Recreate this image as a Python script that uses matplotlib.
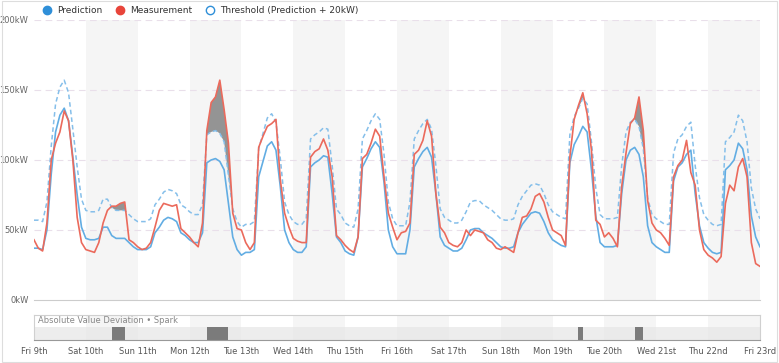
import matplotlib.pyplot as plt
import numpy as np
from matplotlib.lines import Line2D
from matplotlib.patches import Rectangle

day_labels = ['Fri 9th', 'Sat 10th', 'Sun 11th', 'Mon 12th', 'Tue 13th', 'Wed 14th', 'Thu 15th',
              'Fri 16th', 'Sat 17th', 'Sun 18th', 'Mon 19th', 'Tue 20th', 'Wed 21st', 'Thu 22nd', 'Fri 23rd']

# readings every 2 hours (kW), 12 per day + final point
prediction = [
    37, 37, 36, 50, 90, 120, 132, 137, 128, 102, 75, 52,      # Fri 9
    44, 43, 43, 44, 52, 52, 46, 44, 44, 44, 41, 38,           # Sat 10
    36, 36, 36, 38, 48, 52, 57, 59, 58, 56, 48, 46,           # Sun 11
    43, 41, 41, 48, 98, 100, 101, 99, 93, 69, 45, 36,         # Mon 12
    32, 34, 34, 36, 88, 99, 110, 113, 107, 81, 50, 41,        # Tue 13
    36, 34, 34, 38, 95, 98, 100, 103, 102, 76, 45, 41,        # Wed 14
    35, 33, 32, 45, 95, 101, 108, 113, 109, 84, 50, 38,       # Thu 15
    33, 33, 33, 50, 95, 101, 106, 109, 102, 76, 45, 39,       # Fri 16
    37, 35, 35, 37, 43, 50, 51, 51, 48, 46, 44, 41,           # Sat 17
    38, 37, 37, 38, 48, 54, 58, 62, 63, 62, 56, 48,           # Sun 18
    43, 41, 39, 38, 98, 111, 117, 124, 120, 93, 60, 41,       # Mon 19
    38, 38, 38, 39, 76, 100, 107, 109, 104, 88, 53, 41,       # Tue 20
    38, 36, 34, 34, 85, 95, 98, 104, 107, 76, 53, 41,         # Wed 21
    37, 34, 33, 34, 93, 96, 100, 112, 108, 93, 60, 45,        # Thu 22
    38,                                                       # Fri 23
]
measurement = [
    43, 37, 35, 55, 100, 112, 120, 135, 128, 100, 59, 41,     # Fri 9
    36, 35, 34, 41, 55, 64, 67, 67, 69, 70, 43, 41,           # Sat 10
    38, 36, 37, 41, 52, 64, 69, 68, 67, 68, 51, 48,           # Sun 11
    45, 41, 38, 55, 121, 141, 145, 157, 136, 112, 62, 51,     # Mon 12
    50, 41, 36, 41, 109, 117, 124, 126, 129, 86, 62, 52,      # Tue 13
    44, 42, 41, 41, 102, 106, 108, 115, 107, 88, 46, 43,      # Wed 14
    39, 36, 34, 45, 101, 104, 112, 122, 117, 88, 62, 52,      # Thu 15
    43, 48, 49, 55, 104, 107, 114, 128, 117, 76, 52, 48,      # Fri 16
    41, 39, 38, 41, 50, 46, 50, 49, 48, 43, 41, 37,           # Sat 17
    36, 38, 36, 34, 48, 59, 60, 65, 74, 76, 70, 59,           # Sun 18
    50, 48, 46, 39, 102, 129, 139, 148, 133, 107, 57, 54,     # Mon 19
    45, 48, 44, 38, 81, 105, 126, 130, 145, 121, 71, 55,      # Tue 20
    50, 48, 44, 39, 88, 96, 100, 114, 91, 82, 50, 36,         # Wed 21
    32, 30, 27, 31, 69, 82, 78, 95, 101, 88, 41, 26,          # Thu 22
    24,                                                       # Fri 23
]
threshold_margin = 20

hours = np.arange(len(prediction)) * 2
pred = np.array(prediction, dtype=float)
meas = np.array(measurement, dtype=float)
thresh = pred + threshold_margin
over = meas > thresh

c_pred = '#62ade3'
c_meas = '#eb6a5c'
c_thr = '#85bfea'
band = '#f5f5f5'

fig = plt.figure(figsize=(7.79, 3.63), dpi=100)
fig.patches.append(Rectangle((0.002, 0.003), 0.996, 0.994, transform=fig.transFigure,
                             fill=False, edgecolor='#dddddd', linewidth=0.8))

ax = fig.add_axes([0.0436, 0.1736, 0.932, 0.7714])
for d in range(1, 14, 2):
    ax.axvspan(d * 24, (d + 1) * 24, color=band, zorder=0, linewidth=0)
for v in [50, 100, 150, 200]:
    ax.axhline(v, color='#e9dfea', linestyle=(0, (6, 4)), linewidth=0.8, zorder=1)

ax.fill_between(hours, thresh, meas, where=over, interpolate=True,
                color='#8a8a8a', alpha=0.9, zorder=2, linewidth=0)
ax.plot(hours, thresh, color=c_thr, linestyle=(0, (3, 2)), linewidth=1.1, zorder=3)
ax.plot(hours, pred, color=c_pred, linewidth=1.2, zorder=4)
ax.plot(hours, meas, color=c_meas, linewidth=1.2, zorder=5)

ax.set_xlim(0, 336)
ax.set_ylim(0, 200)
ax.set_yticks([0, 50, 100, 150, 200])
ax.set_yticklabels(['0kW', '50kW', '100kW', '150kW', '200kW'])
ax.set_xticks([])
ax.tick_params(axis='y', length=0, labelsize=6, colors='#666666', pad=4)
for s in ['top', 'right', 'left']:
    ax.spines[s].set_visible(False)
ax.spines['bottom'].set_color('#cccccc')

handles = [
    Line2D([], [], marker='o', linestyle='none', markersize=6, markerfacecolor='#2f8fd8', markeredgecolor='#2f8fd8'),
    Line2D([], [], marker='o', linestyle='none', markersize=6, markerfacecolor='#e8453a', markeredgecolor='#e8453a'),
    Line2D([], [], marker='o', linestyle='none', markersize=6, markerfacecolor='white', markeredgecolor='#2f8fd8'),
]
fig.legend(handles, ['Prediction', 'Measurement', 'Threshold (Prediction + 20kW)'],
           loc='upper left', bbox_to_anchor=(0.038, 1.005), ncol=3, frameon=False,
           fontsize=6.5, handletextpad=0.1, columnspacing=1.0, labelcolor='#333333')

# spark panel
sx = fig.add_axes([0.0436, 0.0634, 0.932, 0.0689])
for d in range(1, 14, 2):
    sx.axvspan(d * 24, (d + 1) * 24, color=band, zorder=0, linewidth=0)
sx.axhspan(0, 0.52, color='#e6e6e6', alpha=0.7, zorder=1, linewidth=0)
sx.fill_between(hours, 0, 0.52, where=over, step='mid', color='#7b7b7b', zorder=2, linewidth=0)
sx.text(2, 0.78, 'Absolute Value Deviation \u2022 Spark', fontsize=6, color='#888888',
        va='center', ha='left')
sx.set_xlim(0, 336)
sx.set_ylim(0, 1)
sx.set_yticks([])
sx.set_xticks(np.arange(0, 337, 24))
sx.set_xticklabels(day_labels)
sx.tick_params(axis='x', length=0, labelsize=6, colors='#555555', pad=5)
for s in sx.spines.values():
    s.set_color('#d0d0d0')
    s.set_linewidth(0.8)
sx.spines['bottom'].set_color('#999999')

fig.savefig('out.png', dpi=100)
